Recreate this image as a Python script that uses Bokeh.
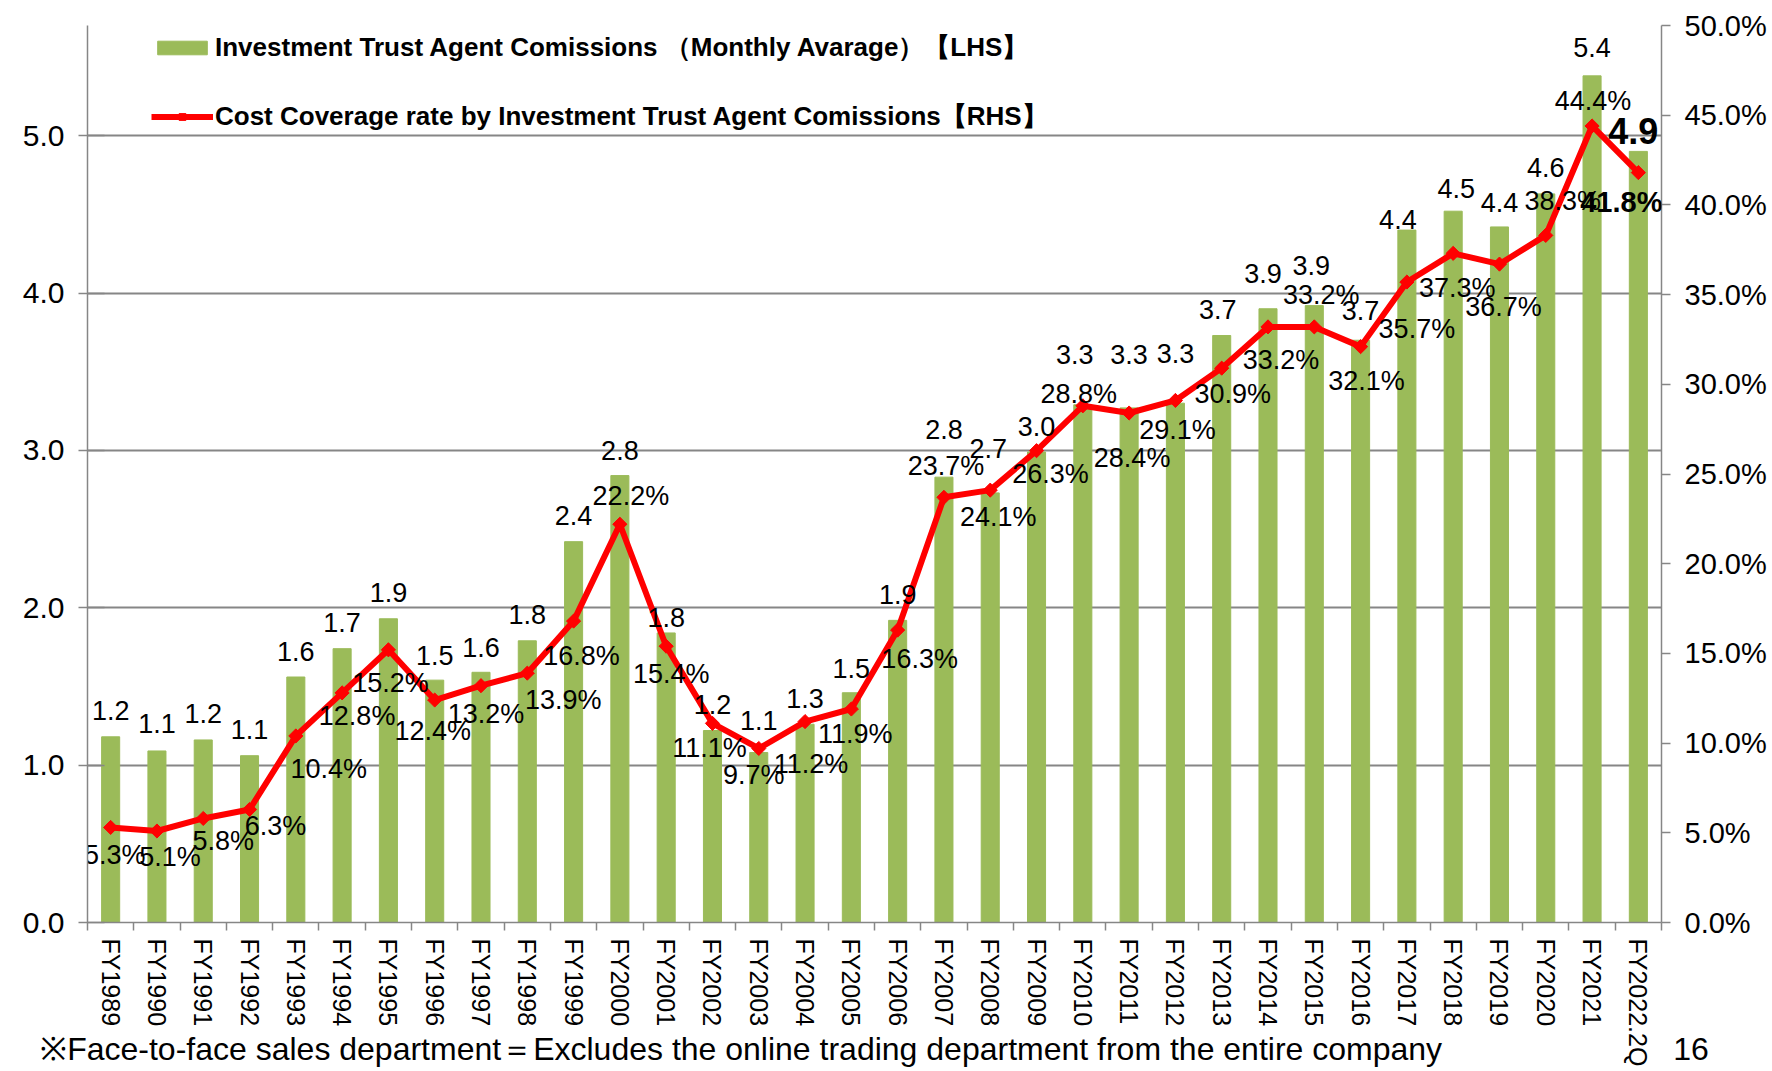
import math
from bokeh.plotting import figure
from bokeh.models import (ColumnDataSource, Range1d, LinearAxis, FixedTicker, PrintfTickFormatter,
                          CustomJSTickFormatter, Legend, LegendItem, Label)
from bokeh.core.properties import value
from bokeh.embed import file_html
from bokeh.resources import INLINE

# ---------------- data ----------------
fy_labels = ["FY1989", "FY1990", "FY1991", "FY1992", "FY1993", "FY1994", "FY1995", "FY1996",
             "FY1997", "FY1998", "FY1999", "FY2000", "FY2001", "FY2002", "FY2003", "FY2004",
             "FY2005", "FY2006", "FY2007", "FY2008", "FY2009", "FY2010", "FY2011", "FY2012",
             "FY2013", "FY2014", "FY2015", "FY2016", "FY2017", "FY2018", "FY2019", "FY2020",
             "FY2021", "FY2022.2Q"]
commissions = [1.18, 1.09, 1.16, 1.06, 1.56, 1.74, 1.93, 1.54, 1.59, 1.79, 2.42, 2.84, 1.84,
               1.22, 1.08, 1.26, 1.46, 1.92, 2.83, 2.73, 2.99, 3.29, 3.27, 3.30, 3.73, 3.90,
               3.92, 3.70, 4.40, 4.52, 4.42, 4.63, 5.38, 4.90]
coverage_pct = [5.3, 5.1, 5.8, 6.3, 10.4, 12.8, 15.2, 12.4, 13.2, 13.9, 16.8, 22.2, 15.4, 11.1,
                9.7, 11.2, 11.9, 16.3, 23.7, 24.1, 26.3, 28.8, 28.4, 29.1, 30.9, 33.2, 33.2,
                32.1, 35.7, 37.3, 36.7, 38.3, 44.4, 41.8]
left_ticks = [0, 1, 2, 3, 4, 5]
right_ticks = [0, 5, 10, 15, 20, 25, 30, 35, 40, 45, 50]

lhs_label = "Investment Trust Agent Comissions （Monthly Avarage）【LHS】"
rhs_label = "Cost Coverage rate by Investment Trust Agent Comissions【RHS】"
footnote = "※Face-to-face sales department＝Excludes the online trading department from the entire company"
page_no = "16"

# label placement (pixel offsets, layout only)
bar_dx = [0] * 34
for i, d in {19: -2, 21: -8, 24: -4, 25: -5, 26: -3, 28: -9, 29: 3, 33: -5}.items():
    bar_dx[i] = d
bar_dy = [-26, -27, -26, -26, -26, -26, -26, -25, -25, -26, -26, -25, -15, -26, -32, -26, -24,
          -26, -48, -44, -25, -50, -53, -50, -26, -35, -40, -30, -11, -23, -24, -26, -28, -20]
pct_dx = [4, 13, 20, 26, 33, 15, 2, -2, 5, 36, 8, 11, 5, -3, -5, 6, 4, 22, 2, 8, 14, -4, 3, 2,
          11, 13, 7, 6, 10, 4, 4, 17, 1, -17]
pct_dy = [28, 26, 23, 17, 33, 23, 33, 31, 28, 27, 35, -28, 28, 25, 27, 42, 25, 29, -31, 27, 23,
          -12, 45, 30, 26, 33, -32, 34, 47, 35, 43, -34, -25, 29]

FONT = "Liberation Sans"
GRAY = "#868686"
GREEN = "#9BBB59"
RED = "#FF0000"

n = len(fy_labels)
xs = list(range(n))
k = n - 1

p = figure(width=1772, height=1071, output_backend="svg", toolbar_location=None,
           x_range=Range1d(-0.5, n - 0.5), y_range=Range1d(0, 5.7),
           min_border_left=87, min_border_right=111, min_border_top=25, min_border_bottom=149)
p.outline_line_color = None
p.background_fill_color = "white"
p.border_fill_color = "white"
p.extra_y_ranges = {"pct": Range1d(0, 50)}

# bars
bars = p.vbar(x=xs, top=commissions, width=0.39, fill_color=GREEN, line_color=GREEN)

# line
line = p.line(x=xs, y=coverage_pct, y_range_name="pct", line_color=RED, line_width=6)
marks = p.scatter(x=xs, y=coverage_pct, y_range_name="pct", marker="square", angle=math.pi / 4,
                  size=10, fill_color=RED, line_color=RED)

# data labels - bars
bsrc = ColumnDataSource(dict(x=xs[:k], y=commissions[:k], t=["%.1f" % v for v in commissions[:k]],
                             dx=bar_dx[:k], dy=bar_dy[:k]))
p.text(x="x", y="y", text="t", x_offset="dx", y_offset="dy", source=bsrc,
       text_font=value(FONT), text_font_size="27px", text_align="center",
       text_baseline="middle", text_color="black")

# data labels - percentages
psrc = ColumnDataSource(dict(x=xs[:k], y=coverage_pct[:k], t=["%.1f%%" % v for v in coverage_pct[:k]],
                             dx=pct_dx[:k], dy=pct_dy[:k]))
p.text(x="x", y="y", text="t", x_offset="dx", y_offset="dy", source=psrc, y_range_name="pct",
       text_font=value(FONT), text_font_size="27px", text_align="center",
       text_baseline="middle", text_color="black")

# highlighted latest values
p.add_layout(Label(x=xs[k], y=commissions[k], text="%.1f" % commissions[k],
                   x_offset=bar_dx[k], y_offset=-bar_dy[k],
                   text_font=FONT, text_font_size="36px", text_font_style="bold",
                   text_align="center", text_baseline="middle", text_color="black"))
p.add_layout(Label(x=xs[k], y=coverage_pct[k], y_range_name="pct", text="%.1f%%" % coverage_pct[k],
                   x_offset=pct_dx[k], y_offset=-pct_dy[k],
                   text_font=FONT, text_font_size="29px", text_font_style="bold",
                   text_align="center", text_baseline="middle", text_color="black"))

# axes
xa = p.xaxis[0]
xa.ticker = FixedTicker(ticks=xs, minor_ticks=[i - 0.5 for i in range(n + 1)])
xa.formatter = CustomJSTickFormatter(args=dict(labels=fy_labels),
                                     code="const i = Math.round(tick); return (i >= 0 && i < labels.length) ? labels[i] : '';")
xa.major_label_orientation = -math.pi / 2
xa.major_tick_in = 0
xa.major_tick_out = 0
xa.minor_tick_in = 0
xa.minor_tick_out = 8
xa.minor_tick_line_color = GRAY
xa.minor_tick_line_width = 1.5
xa.axis_line_color = GRAY
xa.axis_line_width = 1.5
xa.major_label_standoff = 8
xa.major_label_text_font = FONT
xa.major_label_text_font_size = "25px"
xa.major_label_text_color = "black"
# footnote line of the slide (footnote ... page number) carried by the x-axis label
xa.axis_label = footnote + "\u00a0" * 26 + page_no
xa.axis_label_standoff = -38
xa.axis_label_text_font = FONT
xa.axis_label_text_font_size = "32px"
xa.axis_label_text_font_style = "normal"
xa.axis_label_text_color = "black"

ya = p.yaxis[0]
ya.ticker = FixedTicker(ticks=left_ticks)
ya.formatter = PrintfTickFormatter(format="%.1f")
ya.major_tick_in = 17
ya.major_tick_out = 9
ya.minor_tick_line_color = None
ya.major_tick_line_color = GRAY
ya.major_tick_line_width = 1.5
ya.axis_line_color = GRAY
ya.axis_line_width = 1.5
ya.major_label_standoff = 14
ya.major_label_text_font = FONT
ya.major_label_text_font_size = "30px"
ya.major_label_text_color = "black"

ra = LinearAxis(y_range_name="pct", ticker=FixedTicker(ticks=right_ticks),
                formatter=PrintfTickFormatter(format="%.1f%%"))
ra.major_tick_in = 0
ra.major_tick_out = 9
ra.minor_tick_line_color = None
ra.major_tick_line_color = GRAY
ra.major_tick_line_width = 1.5
ra.axis_line_color = GRAY
ra.axis_line_width = 1.5
ra.major_label_standoff = 14
ra.major_label_text_font = FONT
ra.major_label_text_font_size = "29px"
ra.major_label_text_color = "black"
p.add_layout(ra, "right")

p.xgrid.grid_line_color = None
p.ygrid.ticker = FixedTicker(ticks=left_ticks)
p.ygrid.grid_line_color = GRAY
p.ygrid.grid_line_width = 2

# legend
legend = Legend(items=[LegendItem(label=lhs_label, renderers=[bars]),
                       LegendItem(label=rhs_label, renderers=[line, marks])],
                location=(64, 788), orientation="vertical",
                glyph_width=62, glyph_height=17, label_standoff=2, spacing=34,
                padding=10, margin=0, label_height=30,
                label_text_font=FONT, label_text_font_style="bold", label_text_font_size="26px",
                label_text_color="black", border_line_color=None,
                background_fill_color="white", background_fill_alpha=1.0)
p.add_layout(legend)

open("out.html", "w").write(file_html(p, INLINE))
